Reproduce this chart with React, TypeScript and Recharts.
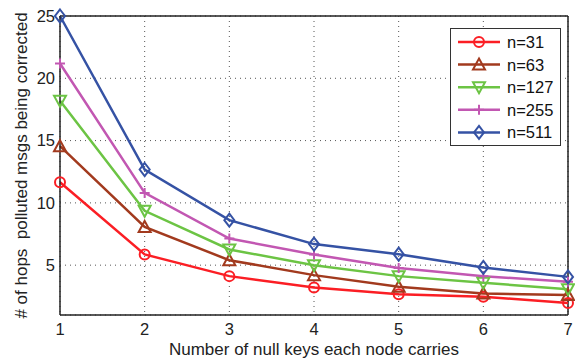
import React from "react";
import { LineChart, Line, XAxis, YAxis, CartesianGrid, ReferenceLine } from "recharts";

// values
const nullKeys = [1, 2, 3, 4, 5, 6, 7];
const n31 = [11.66, 5.86, 4.12, 3.21, 2.67, 2.46, 1.97];
const n63 = [14.55, 8.07, 5.4, 4.2, 3.26, 2.73, 2.6];
const n127 = [18.2, 9.36, 6.26, 5.0, 4.12, 3.58, 3.07];
const n255 = [21.19, 10.8, 7.14, 5.86, 4.77, 4.12, 3.66];
const n511 = [25.0, 12.68, 8.61, 6.69, 5.88, 4.82, 4.06];
const yTicks = [5, 10, 15, 20, 25];

const FONT = "'Liberation Sans', Arial, Helvetica, sans-serif";

type MarkerKind = "circle" | "up" | "down" | "plus" | "diamond";

interface SeriesDef {
  key: string;
  name: string;
  color: string;
  marker: MarkerKind;
}

const series: SeriesDef[] = [
  { key: "n31", name: "n=31", color: "#fb1e24", marker: "circle" },
  { key: "n63", name: "n=63", color: "#a23a1e", marker: "up" },
  { key: "n127", name: "n=127", color: "#6cc444", marker: "down" },
  { key: "n255", name: "n=255", color: "#c257b2", marker: "plus" },
  { key: "n511", name: "n=511", color: "#3552a4", marker: "diamond" },
];

const data = nullKeys.map((k, i) => ({
  k,
  n31: n31[i],
  n63: n63[i],
  n127: n127[i],
  n255: n255[i],
  n511: n511[i],
}));

const Marker = ({ kind, cx, cy, color }: { kind: MarkerKind; cx: number; cy: number; color: string }) => {
  const common = { fill: "none", stroke: color, strokeWidth: 2 };
  switch (kind) {
    case "circle":
      return <circle cx={cx} cy={cy} r={5} {...common} />;
    case "up":
      return <polygon points={`${cx},${cy - 6} ${cx + 6},${cy + 5} ${cx - 6},${cy + 5}`} {...common} />;
    case "down":
      return <polygon points={`${cx},${cy + 6} ${cx + 6},${cy - 5} ${cx - 6},${cy - 5}`} {...common} />;
    case "plus":
      return <path d={`M${cx - 5},${cy}H${cx + 5}M${cx},${cy - 5}V${cy + 5}`} {...common} />;
    default:
      return <polygon points={`${cx},${cy - 6.5} ${cx + 5},${cy} ${cx},${cy + 6.5} ${cx - 5},${cy}`} {...common} />;
  }
};

const LegendBox = () => (
  <svg width={111} height={118} style={{ display: "block" }}>
    <rect x={0.5} y={0.5} width={110} height={117} fill="#fff" stroke="#333" strokeWidth={1} />
    {series.map((s, i) => {
      const y = 14 + i * 22.6;
      return (
        <g key={s.key}>
          <line x1={8} x2={50} y1={y} y2={y} stroke={s.color} strokeWidth={2.5} />
          <Marker kind={s.marker} cx={29} cy={y} color={s.color} />
          <text x={57} y={y + 6} fontSize={16.5} fontFamily={FONT} fill="#111">
            {s.name}
          </text>
        </g>
      );
    })}
  </svg>
);

export default function App() {
  return (
    <div style={{ position: "fixed", left: 0, top: 0, width: 575, height: 358, background: "#fff" }}>
      <LineChart width={575} height={358} data={data} margin={{ top: 16, right: 7, bottom: 0, left: 0 }}>
        <CartesianGrid stroke="#555" strokeDasharray="1 4" strokeWidth={1} />
        <ReferenceLine y={25} stroke="#222" strokeWidth={1.5} />
        <ReferenceLine x={7} stroke="#222" strokeWidth={1.5} />
        <XAxis
          dataKey="k"
          type="number"
          domain={[1, 7]}
          ticks={nullKeys}
          height={43}
          stroke="#222"
          strokeWidth={1.5}
          tickLine={false}
          tickSize={4}
          tickMargin={4}
          tick={{ fontSize: 16.5, fill: "#222", fontFamily: FONT }}
          label={{
            value: "Number of null keys each node carries",
            position: "insideBottom",
            offset: 3,
            style: { fontSize: 17, fill: "#222", fontFamily: FONT },
          }}
        />
        <YAxis
          type="number"
          domain={[1, 25]}
          ticks={yTicks}
          width={60}
          stroke="#222"
          strokeWidth={1.5}
          tickLine={false}
          tickSize={2}
          tickMargin={3}
          tick={{ fontSize: 16.5, fill: "#222", fontFamily: FONT }}
          label={{
            value: "# of hops\u00a0 polluted msgs being corrected",
            angle: -90,
            position: "insideLeft",
            offset: 21,
            style: { fontSize: 17, fill: "#222", fontFamily: FONT, textAnchor: "middle" },
          }}
        />
        {series.map((s) => (
          <Line
            key={s.key}
            dataKey={s.key}
            name={s.name}
            stroke={s.color}
            strokeWidth={2.5}
            isAnimationActive={false}
            dot={(p: any) => <Marker key={`${s.key}-${p.index}`} kind={s.marker} cx={p.cx} cy={p.cy} color={s.color} />}
            activeDot={false}
          />
        ))}
      </LineChart>
      <div style={{ position: "absolute", left: 450, top: 28 }}>
        <LegendBox />
      </div>
    </div>
  );
}
